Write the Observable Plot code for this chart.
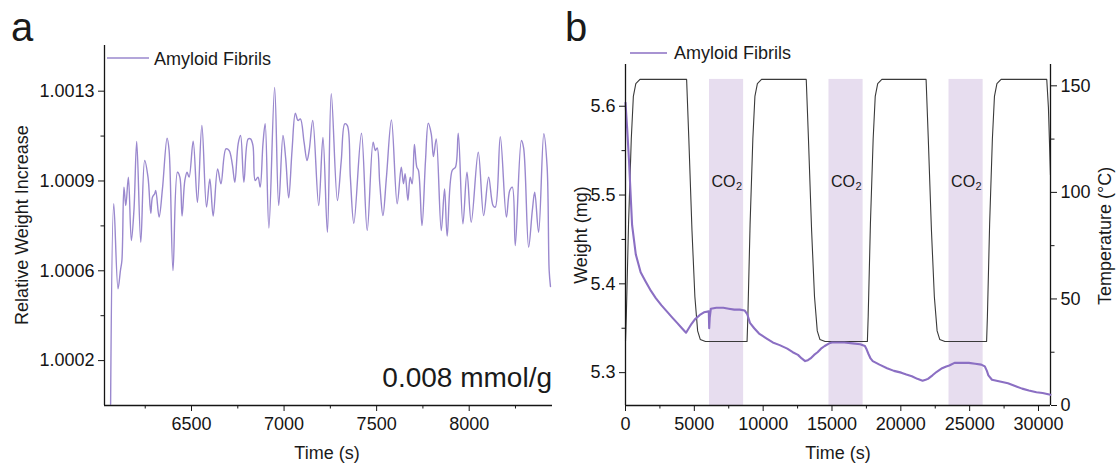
<!DOCTYPE html>
<html>
<head>
<meta charset="utf-8">
<script src="https://cdn.jsdelivr.net/npm/d3@7"></script>
<script src="https://cdn.jsdelivr.net/npm/@observablehq/plot@0.6"></script>
<style>
  html, body { margin: 0; padding: 0; background: #fff; }
  #wrap { position: relative; width: 1118px; height: 468px; overflow: hidden; background: #fff; }
  #wrap > svg, #wrap > div { position: absolute; top: 0; }
</style>
</head>
<body>
<div id="wrap"></div>
<script>
// ---------- Panel a data ----------
const aTime = [6063,6080,6103,6116,6124,6135,6145,6159,6175,6189,
  6204,6226,6247,6265,6280,6289,6301,6307,6325,6343,
  6368,6379,6400,6424,6437,6449,6464,6476,6487,6509,
  6532,6556,6581,6599,6617,6641,6659,6686,6703,6720,
  6734,6752,6765,6783,6806,6819,6832,6844,6859,6871,
  6886,6898,6918,6949,6971,6994,7009,7025,7043,7061,
  7075,7088,7108,7124,7136,7155,7187,7210,7234,7255,
  7288,7309,7328,7342,7358,7377,7418,7449,7481,7493,
  7503,7517,7534,7553,7580,7611,7633,7645,7654,7669,
  7681,7692,7704,7717,7726,7745,7764,7779,7795,7807,
  7822,7849,7867,7881,7908,7926,7941,7966,7988,8011,
  8049,8078,8105,8129,8141,8168,8201,8219,8233,8249,
  8282,8294,8321,8341,8354,8375,8403,8421,8432,8439];
const aValue = [1.00003,1.000811,1.000480,1.000551,1.000590,1.000876,1.000804,1.000915,1.000668,1.000785,
  1.001054,1.000661,1.000980,1.000915,1.000774,1.000837,1.000850,1.000863,1.000759,1.000869,
  1.001067,1.001019,1.000551,1.000934,1.000915,1.000763,1.000902,1.000934,1.000915,1.001055,
  1.000817,1.001116,1.000798,1.000908,1.000763,1.000947,1.000889,1.001025,1.001019,1.000967,
  1.000895,1.001045,1.001077,1.000895,1.001064,1.001064,1.001038,1.000902,1.000915,1.000876,
  1.001045,1.001123,1.000717,1.001265,1.000804,1.001077,1.000986,1.000834,1.001019,1.001164,
  1.001136,1.001142,1.001051,1.000980,1.001021,1.001136,1.000804,1.001070,1.000700,1.001240,
  1.000824,1.000980,1.001123,1.001116,1.000915,1.000735,1.001086,1.000707,1.001051,1.001019,
  1.001029,1.000889,1.000765,1.000915,1.001138,1.000811,1.000954,1.000889,1.000928,1.000824,
  1.000915,1.000889,1.001042,1.000954,1.000941,1.000726,1.000980,1.001125,1.001084,1.000995,
  1.001064,1.000707,1.000869,1.000685,1.000941,1.000954,1.001086,1.000733,1.000934,1.000739,
  1.001012,1.000765,1.000915,1.000804,1.000798,1.001073,1.000759,1.000863,1.000876,1.000648,
  1.001058,1.001029,1.000642,1.000785,1.000856,1.000700,1.001084,1.000954,1.000551,1.000489];
const aXDomain = [6030, 8450];
const aYDomain = [1.000025, 1.001428];
const aXTicks = [6500, 7000, 7500, 8000];
const aXMinor = [6250, 6750, 7250, 7750, 8250];
const aYTicks = [1.0002, 1.00055, 1.0009, 1.00125];
const aYTickLabels = ["1.0002", "1.0006", "1.0009", "1.0013"];
const aYMinor = [1.000375, 1.000725, 1.001075];
const aSeries = "Amyloid Fibrils";
const aNote = "0.008 mmol/g";

// ---------- Panel b data ----------
const bTime = [0,120,250,480,750,1100,1450,1850,2200,2600,3000,3400,3750,4100,4400,4520,4800,5040,5400,5700,
  6050,6080,6120,6200,6600,7100,7500,7900,8300,8650,8840,9040,9350,9700,10200,10700,11200,11750,12150,12530,
  12800,13050,13250,13440,13700,13950,14200,14470,14800,15000,15500,15900,16500,17050,17390,17520,17650,17800,17960,18450,
  19000,19500,20030,20400,20800,21200,21580,21800,21970,22300,22610,23000,23300,23520,23900,24400,24940,25400,25840,26100,
  26250,26360,26620,27200,27780,28300,28810,29300,29850,30300,30620,30870];
const bWeight = [5.604,5.575,5.540,5.466,5.433,5.413,5.403,5.392,5.384,5.376,5.369,5.362,5.356,5.350,5.345,5.348,5.355,5.360,5.365,5.368,
  5.369,5.350,5.362,5.372,5.373,5.373,5.372,5.371,5.371,5.370,5.366,5.356,5.350,5.344,5.339,5.334,5.331,5.327,5.323,5.320,
  5.316,5.313,5.314,5.316,5.320,5.323,5.327,5.330,5.333,5.334,5.334,5.334,5.333,5.332,5.330,5.326,5.321,5.316,5.313,5.309,
  5.305,5.302,5.300,5.298,5.296,5.293,5.291,5.292,5.293,5.297,5.301,5.305,5.307,5.308,5.311,5.311,5.311,5.310,5.309,5.307,
  5.302,5.297,5.292,5.290,5.288,5.285,5.282,5.280,5.278,5.277,5.276,5.275];
const tTime = [0,60,220,420,570,750,1050,
  4440,4600,4830,5040,5240,5430,5810,
  8830,8890,9050,9250,9400,9580,9880,
  13130,13290,13520,13730,13930,14120,14500,
  17570,17630,17790,17990,18140,18320,18620,
  21835,21995,22225,22435,22635,22825,23205,
  26230,26290,26450,26650,26800,26980,27280,
  30600,30720,30870];
const tTemp = [30,42,85,125,145,151,153,
  153,125,82,51,35,31,30,
  30,42,85,125,145,151,153,
  153,125,82,51,35,31,30,
  30,42,85,125,145,151,153,
  153,125,82,51,35,31,30,
  30,42,85,125,145,151,153,
  153,140,108];
const co2Start = [6100, 14780, 23500];
const co2End = [8580, 17260, 25980];
const co2Top = 153;
const co2LabelTemp = 105;
const bXDomain = [0, 30872];
const wDomain = [5.263, 5.647];
const tDomain = [0, 160];
const bXTicks = [0, 5000, 10000, 15000, 20000, 25000, 30000];
const bXMinor = [2500, 7500, 12500, 17500, 22500, 27500];
const wTicks = [5.3, 5.4, 5.5, 5.6];
const wMinor = [5.35, 5.45, 5.55];
const tTicks = [0, 50, 100, 150];
const tMinor = [25, 75, 125];
const bSeries = "Amyloid Fibrils";

// ---------- styling ----------
const FONT = "'Liberation Sans', Arial, Helvetica, sans-serif";
const aColor = "#9a88ce";
const bColor = "#8b6fc3";
const tColor = "#3a3a3a";
const bandColor = "#e7ddef";
const axisColor = "#151515";
const baseStyle = {background: "transparent", fontFamily: FONT, fontSize: "18px", color: axisColor, overflow: "visible"};

const wrap = document.getElementById("wrap");

// Panel a
const aData = aTime.map((t, i) => ({t, v: aValue[i]}));
const plotA = Plot.plot({
  width: 560, height: 468,
  marginLeft: 104, marginRight: 8, marginTop: 45, marginBottom: 63,
  x: {domain: aXDomain, axis: null},
  y: {domain: aYDomain, axis: null},
  style: baseStyle,
  marks: [
    Plot.line(aData, {x: "t", y: "v", stroke: aColor, strokeWidth: 1.4, curve: "catmull-rom"}),
    Plot.ruleX([aXDomain[0]], {stroke: axisColor, strokeWidth: 1.3}),
    Plot.ruleY([aYDomain[0]], {stroke: axisColor, strokeWidth: 1.3}),
    Plot.axisX(aXTicks, {tickSize: 6, tickPadding: 6, tickFormat: d3.format("d"), fontSize: 18, label: null}),
    Plot.axisX(aXMinor, {tickSize: 3.5, tickFormat: () => "", label: null}),
    Plot.axisY(aYTicks, {tickSize: 6, tickPadding: 4, tickFormat: d => aYTickLabels[aYTicks.indexOf(d)], fontSize: 18, label: null}),
    Plot.axisY(aYMinor, {tickSize: 3.5, tickFormat: () => "", label: null})
  ]
});
plotA.style.left = "0px";
wrap.appendChild(plotA);

// Panel b: temperature layer (bottom)
const bands = co2Start.map((s, i) => ({start: s, end: co2End[i]}));
const tData = tTime.map((t, i) => ({t, temp: tTemp[i]}));
const bMargins = {width: 558, height: 468, marginLeft: 65, marginRight: 68, marginTop: 64, marginBottom: 63};
const plotT = Plot.plot({
  ...bMargins,
  x: {domain: bXDomain, axis: null},
  y: {domain: tDomain, axis: null},
  style: baseStyle,
  marks: [
    Plot.rect(bands, {x1: "start", x2: "end", y1: 0, y2: co2Top, fill: bandColor}),
    Plot.text(bands, {x: d => (d.start + d.end) / 2, y: co2LabelTemp, text: () => "CO", textAnchor: "end", dx: 9, fontSize: 16, fill: "#1a1a1a"}),
    Plot.text(bands, {x: d => (d.start + d.end) / 2, y: co2LabelTemp, text: () => "2", textAnchor: "start", dx: 9.5, dy: 5, fontSize: 11, fill: "#1a1a1a"}),
    Plot.line(tData, {x: "t", y: "temp", stroke: tColor, strokeWidth: 1.1}),
    Plot.ruleX([bXDomain[1]], {stroke: axisColor, strokeWidth: 1.3}),
    Plot.axisY(tTicks, {anchor: "right", tickSize: 6, tickPadding: 4, fontSize: 18, label: null}),
    Plot.axisY(tMinor, {anchor: "right", tickSize: 3.5, tickFormat: () => "", label: null})
  ]
});
plotT.style.left = "560px";
wrap.appendChild(plotT);

// Panel b: weight layer (top)
const wData = bTime.map((t, i) => ({t, w: bWeight[i]}));
const plotW = Plot.plot({
  ...bMargins,
  x: {domain: bXDomain, axis: null},
  y: {domain: wDomain, axis: null},
  style: baseStyle,
  marks: [
    Plot.line(wData, {x: "t", y: "w", stroke: bColor, strokeWidth: 2.1}),
    Plot.ruleX([bXDomain[0]], {stroke: axisColor, strokeWidth: 1.3}),
    Plot.ruleY([wDomain[0]], {stroke: axisColor, strokeWidth: 1.3}),
    Plot.axisX(bXTicks, {tickSize: 6, tickPadding: 6, tickFormat: d3.format("d"), fontSize: 18, label: null}),
    Plot.axisX(bXMinor, {tickSize: 3.5, tickFormat: () => "", label: null}),
    Plot.axisY(wTicks, {anchor: "left", tickSize: 6, tickPadding: 4, tickFormat: d3.format(".1f"), fontSize: 18, label: null}),
    Plot.axisY(wMinor, {anchor: "left", tickSize: 3.5, tickFormat: () => "", label: null})
  ]
});
plotW.style.left = "560px";
wrap.appendChild(plotW);

// Text overlay: panel letters, axis titles, legends, note
const ov = d3.select(wrap).append("svg")
  .attr("width", 1118).attr("height", 468)
  .style("left", "0px")
  .style("font-family", FONT)
  .style("pointer-events", "none");
const txt = (s, x, y, size, anchor = "start", rot = 0) => {
  const t = ov.append("text").text(s).attr("font-size", size).attr("fill", "#1a1a1a").attr("text-anchor", anchor);
  if (rot) t.attr("transform", `translate(${x},${y}) rotate(${rot})`);
  else t.attr("x", x).attr("y", y);
  return t;
};
txt("a", 11, 41, 40);
txt("b", 565, 41, 40);
txt("Relative Weight Increase", 28, 225, 18, "middle", -90);
txt("Time (s)", 327, 459, 18, "middle");
txt("Time (s)", 838, 459, 18, "middle");
txt("Weight (mg)", 587, 235, 18, "middle", -90);
txt("Temperature (°C)", 1111, 236, 18, "middle", -90);
txt(aNote, 552, 387, 28, "end");
// legends
ov.append("line").attr("x1", 107).attr("x2", 149).attr("y1", 58).attr("y2", 58).attr("stroke", aColor).attr("stroke-width", 1.5);
txt(aSeries, 154, 65, 18);
ov.append("line").attr("x1", 630).attr("x2", 667).attr("y1", 53).attr("y2", 53).attr("stroke", bColor).attr("stroke-width", 1.5);
txt(bSeries, 674, 59, 18);
</script>
</body>
</html>
